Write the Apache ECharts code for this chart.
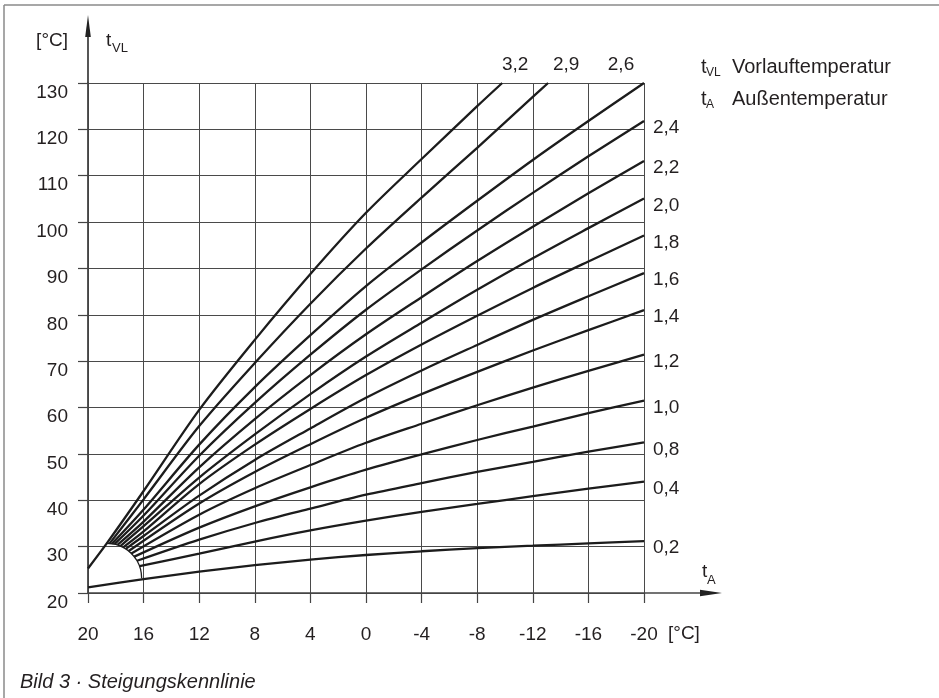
<!DOCTYPE html>
<html>
<head>
<meta charset="utf-8">
<script src="https://cdn.jsdelivr.net/npm/echarts@6/dist/echarts.min.js"></script>
<style>
  html, body { margin: 0; padding: 0; background: #fff; }
  #chart { width: 939px; height: 698px; }
</style>
</head>
<body>
<div id="chart"></div>
<script>
// Achsen: Außentemperatur t_A (x, fallend) und Vorlauftemperatur t_VL (y)
const tA_min = -20, tA_max = 20, tA_step = 4;
const tVL_min = 20, tVL_max = 130, tVL_step = 10;

// Steigungen (Beschriftung der Kennlinien)
const steigung = ['3,2', '2,9', '2,6', '2,4', '2,2', '2,0', '1,8', '1,6', '1,4', '1,2', '1,0', '0,8', '0,4', '0,2'];

// Kennlinien als [t_A, t_VL]
const k32 = [[20, 25.3], [18.65, 30.7], [16, 42.0], [12, 59.5], [8, 74.6], [4, 88.8], [0, 102.0], [-4, 113.6], [-8, 125.0], [-9.8, 130]];
const k29 = [[18.44, 30.7], [16, 40.2], [12, 56.0], [8, 69.6], [4, 82.4], [0, 94.3], [-4, 105.3], [-8, 116.0], [-12, 127.0], [-13.1, 130]];
const k26 = [[18.26, 30.65], [16, 38.0], [12, 52.0], [8, 64.4], [4, 75.6], [0, 86.2], [-4, 95.6], [-8, 104.6], [-12, 113.4], [-16, 121.8], [-20, 130]];
const k24 = [[18.09, 30.54], [16, 36.7], [12, 49.6], [8, 61.0], [4, 71.4], [0, 81.1], [-4, 89.8], [-8, 98.2], [-12, 106.3], [-16, 114.2], [-20, 121.8]];
const k22 = [[17.88, 30.37], [16, 35.4], [12, 47.1], [8, 57.5], [4, 67.0], [0, 75.8], [-4, 83.8], [-8, 91.6], [-12, 99.0], [-16, 106.2], [-20, 113.2]];
const k20 = [[17.67, 30.13], [16, 34.4], [12, 44.9], [8, 54.2], [4, 62.9], [0, 71.0], [-4, 78.3], [-8, 85.4], [-12, 92.2], [-16, 98.7], [-20, 105.1]];
const k18 = [[17.47, 29.85], [16, 33.3], [12, 43.5], [8, 52.0], [4, 59.7], [0, 67.0], [-4, 73.6], [-8, 79.8], [-12, 85.8], [-16, 91.5], [-20, 97.1]];
const k16 = [[17.28, 29.52], [16, 32.3], [12, 41.0], [8, 48.7], [4, 55.5], [0, 62.1], [-4, 68.0], [-8, 73.5], [-12, 78.9], [-16, 84.0], [-20, 89.0]];
const k14 = [[17.07, 29.05], [12, 39.3], [8, 46.1], [4, 52.1], [0, 57.8], [-4, 62.9], [-8, 67.7], [-12, 72.3], [-16, 76.7], [-20, 81.0]];
const k12 = [[16.88, 28.53], [12, 36.9], [8, 42.6], [4, 47.6], [0, 52.4], [-4, 56.5], [-8, 60.5], [-12, 64.3], [-16, 67.9], [-20, 71.4]];
const k10 = [[16.67, 27.84], [12, 34.1], [8, 38.7], [4, 42.8], [0, 46.6], [-4, 49.9], [-8, 53.0], [-12, 55.9], [-16, 58.8], [-20, 61.5]];
const k08 = [[16.47, 26.95], [12, 31.5], [8, 35.1], [4, 38.2], [0, 41.2], [-4, 43.7], [-8, 46.1], [-12, 48.3], [-16, 50.5], [-20, 52.5]];
const k04 = [[16.29, 25.77], [12, 28.5], [8, 31.1], [4, 33.5], [0, 35.6], [-4, 37.5], [-8, 39.2], [-12, 40.9], [-16, 42.5], [-20, 44.0]];
const k02 = [[20, 21.2], [16, 23.0], [12, 24.6], [8, 26.0], [4, 27.2], [0, 28.2], [-4, 29.0], [-8, 29.7], [-12, 30.2], [-16, 30.7], [-20, 31.2]];

// Bogen, an dem die Kennlinien beginnen
const bogen = [[18.65, 30.73], [18.0, 30.48], [17.4, 29.72], [16.88, 28.53], [16.47, 26.95], [16.22, 25.14], [16.14, 23.17]];

const curves = [k32, k29, k26, k24, k22, k20, k18, k16, k14, k12, k10, k08, k04, k02];

const ink = '#231f20';
const font = 'Liberation Sans';
const topShift = [13, 18, -23]; // Beschriftung über dem oberen Rand

function endLabel(i) {
  if (i < 3) {
    return { show: true, position: 'top', distance: 9, offset: [topShift[i], 0],
      formatter: steigung[i], fontSize: 19, color: ink, fontFamily: font };
  }
  return { show: true, position: 'right', distance: 9, offset: [0, 7],
    formatter: steigung[i], fontSize: 19, color: ink, fontFamily: font };
}

const series = curves.map((pts, i) => ({
  type: 'line',
  name: steigung[i],
  data: pts.map((p, j) => j === pts.length - 1
    ? { value: p, symbolSize: 0.01, label: endLabel(i) }
    : { value: p, symbolSize: 0.01 }),
  showSymbol: true,
  showAllSymbol: true,
  symbol: 'circle',
  symbolSize: 0.01,
  clip: false,
  label: { show: false },
  smooth: 0.3,
  lineStyle: { color: '#1c1c1c', width: 2.3 },
  itemStyle: { color: '#1c1c1c' },
  emphasis: { disabled: true },
  z: 3,
}));

series.push({
  type: 'line',
  data: bogen,
  showSymbol: false,
  symbol: 'none',
  smooth: 0.4,
  lineStyle: { color: '#1c1c1c', width: 1.3 },
  z: 3,
});

const chart = echarts.init(document.getElementById('chart'), null, { renderer: 'canvas' });

chart.setOption({
  animation: false,
  backgroundColor: '#fff',
  grid: { left: 88, right: 295, top: 83, bottom: 105 },
  xAxis: {
    type: 'value',
    min: tA_min,
    max: tA_max,
    interval: tA_step,
    inverse: true,
    axisLine: { show: true, onZero: false, lineStyle: { color: '#444', width: 1.6 } },
    axisTick: { show: true, length: 10, lineStyle: { color: '#444', width: 1.2 } },
    axisLabel: { margin: 32, fontSize: 19, color: ink, fontFamily: font },
    splitLine: { show: true, lineStyle: { color: '#4a4a4a', width: 1 } },
  },
  yAxis: {
    type: 'value',
    min: tVL_min,
    max: tVL_max,
    interval: tVL_step,
    axisLine: { show: true, onZero: false, lineStyle: { color: '#444', width: 1.8 } },
    axisTick: { show: true, length: 10, lineStyle: { color: '#444', width: 1.2 } },
    axisLabel: { margin: 20, fontSize: 19, color: ink, fontFamily: font, verticalAlign: 'top' },
    splitLine: { show: true, lineStyle: { color: '#4a4a4a', width: 1 } },
  },
  series: series,
  graphic: [
    // Rahmen
    { type: 'line', shape: { x1: 4, y1: 5, x2: 939, y2: 5 }, style: { stroke: '#8a8a8a', lineWidth: 1.5 } },
    { type: 'line', shape: { x1: 4, y1: 5, x2: 4, y2: 698 }, style: { stroke: '#8a8a8a', lineWidth: 1.5 } },
    // Achsverlängerungen mit Pfeilen
    { type: 'line', shape: { x1: 88, y1: 83, x2: 88, y2: 30 }, style: { stroke: '#444', lineWidth: 1.8 } },
    { type: 'polygon', shape: { points: [[88, 15], [85.2, 37], [90.8, 37]] }, style: { fill: '#222' } },
    { type: 'line', shape: { x1: 644, y1: 593, x2: 705, y2: 593 }, style: { stroke: '#444', lineWidth: 1.6 } },
    { type: 'polygon', shape: { points: [[722, 593], [700, 589.8], [700, 596.2]] }, style: { fill: '#222' } },
    // Einheiten und Achsnamen
    { type: 'text', x: 68, y: 41, style: { text: '[°C]', fontSize: 19, fill: ink, fontFamily: font, align: 'right', verticalAlign: 'middle' } },
    { type: 'text', x: 106, y: 41, style: { text: 't', fontSize: 19, fill: ink, fontFamily: font, verticalAlign: 'middle' } },
    { type: 'text', x: 112, y: 48, style: { text: 'VL', fontSize: 13, fill: ink, fontFamily: font, verticalAlign: 'middle' } },
    { type: 'text', x: 702, y: 572, style: { text: 't', fontSize: 19, fill: ink, fontFamily: font, verticalAlign: 'middle' } },
    { type: 'text', x: 707, y: 580, style: { text: 'A', fontSize: 13, fill: ink, fontFamily: font, verticalAlign: 'middle' } },
    { type: 'text', x: 668, y: 634, style: { text: '[°C]', fontSize: 19, fill: ink, fontFamily: font, verticalAlign: 'middle' } },
    // Legende
    { type: 'text', x: 701, y: 67, style: { text: 't', fontSize: 20, fill: ink, fontFamily: font, verticalAlign: 'middle' } },
    { type: 'text', x: 706, y: 73, style: { text: 'VL', fontSize: 12, fill: ink, fontFamily: font, verticalAlign: 'middle' } },
    { type: 'text', x: 732, y: 67, style: { text: 'Vorlauftemperatur', fontSize: 20, fill: ink, fontFamily: font, verticalAlign: 'middle' } },
    { type: 'text', x: 701, y: 99, style: { text: 't', fontSize: 20, fill: ink, fontFamily: font, verticalAlign: 'middle' } },
    { type: 'text', x: 706, y: 105, style: { text: 'A', fontSize: 12, fill: ink, fontFamily: font, verticalAlign: 'middle' } },
    { type: 'text', x: 732, y: 99, style: { text: 'Außentemperatur', fontSize: 20, fill: ink, fontFamily: font, verticalAlign: 'middle' } },
    // Bildunterschrift
    { type: 'text', x: 20, y: 682, style: { text: 'Bild 3 · Steigungskennlinie', fontSize: 20, fontStyle: 'italic', fill: ink, fontFamily: font, verticalAlign: 'middle' } },
  ],
});
</script>
</body>
</html>
